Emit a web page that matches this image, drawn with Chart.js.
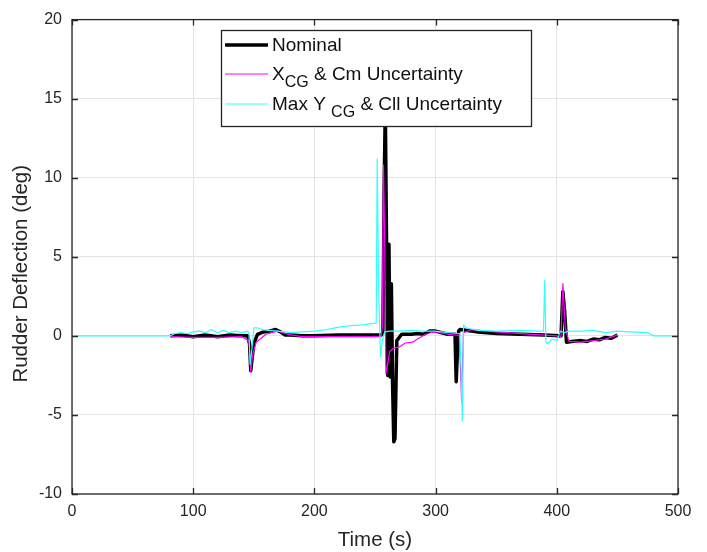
<!DOCTYPE html>
<html>
<head>
<meta charset="utf-8">
<script src="https://cdn.jsdelivr.net/npm/chart.js@4.4.0/dist/chart.umd.min.js"></script>
<style>
  html, body { margin: 0; padding: 0; background: #fff; }
  #wrap { width: 707px; height: 552px; }
</style>
</head>
<body>
<div id="wrap"><canvas id="rudder"></canvas></div>
<script>
// axis ticks
const xTicks = [0, 100, 200, 300, 400, 500];
const yTicks = [-10, -5, 0, 5, 10, 15, 20];

// Nominal
const nominalT = [81, 90, 100, 110, 120, 130, 140, 145, 146.5, 147.5, 148.5, 150, 153, 158, 163, 168, 172, 176, 180, 190, 200, 220, 240, 255, 256.5, 257.5, 258.5, 259.5, 260.5, 261.5, 262.5, 263.5, 264.5, 265.5, 266.5, 268, 272, 280, 285, 290, 295, 300, 305, 310, 316, 317, 318, 319, 320, 325, 335, 350, 370, 390, 402, 403.5, 405, 406.5, 408, 412, 420, 425, 430, 435, 440, 445, 450];
const nominalV = [0, 0.05, -0.05, 0.05, -0.05, 0.05, 0, 0, -0.5, -2.2, -1.5, -0.5, 0.1, 0.25, 0.3, 0.4, 0.25, 0.05, 0.05, 0, 0, 0.05, 0.05, 0.05, 0.2, 9, 14.5, 6, -2.5, 5.8, -2.6, 3.3, -3, -6.7, -6.5, -0.3, 0.1, 0.1, 0.15, 0.1, 0.3, 0.3, 0.2, 0.1, 0.1, -2.9, -1, 0.3, 0.4, 0.35, 0.25, 0.15, 0.1, 0.05, 0, 0, 2.8, 1.5, -0.4, -0.35, -0.3, -0.35, -0.2, -0.25, -0.1, -0.15, 0.05];

// X_CG & Cm uncertainty
const xcgT = [81, 100, 120, 140, 146, 147.5, 149, 152, 160, 170, 178, 190, 220, 250, 255, 256, 257, 258, 259, 260, 262, 265, 270, 275, 281, 285, 292, 296, 300, 310, 318, 319.5, 320.5, 321.5, 323, 330, 350, 380, 400, 402, 403.5, 405, 407, 410, 420, 430, 440, 450];
const xcgV = [-0.05, -0.1, -0.1, -0.05, -0.3, -2.3, -1.2, -0.4, 0.1, 0.3, 0.1, -0.05, -0.05, -0.05, -0.05, 0.5, 10.8, 6, -2.4, -2.0, -1.0, -0.8, -0.7, -0.45, -0.4, -0.2, 0.1, 0.2, 0.25, 0.1, 0.05, 0.05, -2, -4.2, 0.2, 0.4, 0.25, 0.1, 0.0, -0.1, 0.0, 3.3, 0.5, -0.35, -0.4, -0.3, -0.2, 0.05];

// Max Y_CG & Cll uncertainty
const ycgT = [0, 81, 85, 90, 95, 100, 105, 110, 115, 120, 125, 130, 135, 140, 145, 146, 147, 148.5, 150, 153, 157, 162, 170, 180, 190, 200, 210, 220, 230, 240, 250, 251, 251.8, 253, 254.5, 256, 258, 262, 270, 280, 290, 300, 310, 320, 321, 322, 323, 325, 335, 350, 370, 385, 389, 390, 391, 392.5, 396, 400, 403, 406, 410, 420, 430, 440, 450, 460, 475, 480, 500];
const ycgV = [0, 0, 0.15, 0.2, 0.15, 0.25, 0.3, 0.2, 0.4, 0.2, 0.35, 0.2, 0.3, 0.2, 0.3, 0.2, -1.8, -0.8, 0.5, 0.5, 0.4, 0.35, 0.3, 0.2, 0.25, 0.3, 0.4, 0.55, 0.65, 0.7, 0.8, 0.8, 11.2, 3, -1.3, -0.3, 0.25, 0.3, 0.3, 0.35, 0.3, 0.3, 0.2, 0.15, -2, -5.4, 0.7, 0.5, 0.35, 0.3, 0.35, 0.3, 0.3, 3.5, -0.4, -0.5, -0.2, -0.3, 0.3, 0.2, 0.3, 0.3, 0.35, 0.2, 0.3, 0.25, 0.2, 0, 0];

const FONT = '"Liberation Sans", Arial, Helvetica, sans-serif';
const pts = (t, v) => t.map((x, i) => ({ x: x, y: v[i] }));

// box, inward ticks, axis titles and the legend with subscripts
const matlabFrame = {
  id: 'matlabFrame',
  afterDatasetsDraw(chart) {
    const ctx = chart.ctx;
    const a = chart.chartArea;
    const xs = chart.scales.x, ys = chart.scales.y;
    ctx.save();
    ctx.strokeStyle = '#262626';
    ctx.lineWidth = 1.3;
    ctx.strokeRect(a.left, a.top, a.right - a.left, a.bottom - a.top);
    ctx.beginPath();
    xTicks.forEach(v => {
      const px = Math.round(xs.getPixelForValue(v)) + 0.5;
      ctx.moveTo(px, a.bottom); ctx.lineTo(px, a.bottom - 6);
      ctx.moveTo(px, a.top); ctx.lineTo(px, a.top + 6);
    });
    yTicks.forEach(v => {
      const py = Math.round(ys.getPixelForValue(v)) + 0.5;
      ctx.moveTo(a.left, py); ctx.lineTo(a.left + 6, py);
      ctx.moveTo(a.right, py); ctx.lineTo(a.right - 6, py);
    });
    ctx.stroke();

    // axis titles
    ctx.fillStyle = '#262626';
    ctx.font = '20.5px ' + FONT;
    ctx.textAlign = 'center';
    ctx.textBaseline = 'middle';
    ctx.fillText('Time (s)', (a.left + a.right) / 2, 540);
    ctx.translate(21, (a.top + a.bottom) / 2 + 17);
    ctx.rotate(-Math.PI / 2);
    ctx.fillText('Rudder Deflection (deg)', 0, 0);
    ctx.setTransform(1, 0, 0, 1, 0, 0);

    // legend
    const bx = 221, by = 30, bw = 310, bh = 96;
    ctx.fillStyle = '#fff';
    ctx.fillRect(bx, by, bw, bh);
    ctx.strokeStyle = '#262626';
    ctx.lineWidth = 1.3;
    ctx.strokeRect(bx + 0.5, by + 0.5, bw, bh);
    const rows = [
      { color: '#000', width: 3.5, y: 45, parts: [['Nominal', 0]] },
      { color: '#ff00ff', width: 1, y: 74, parts: [['X', 0], ['CG', 1], [' & Cm Uncertainty', 0]] },
      { color: '#33ffff', width: 1, y: 104, parts: [['Max Y ', 0], ['CG', 1], [' & Cll Uncertainty', 0]] }
    ];
    ctx.textAlign = 'left';
    ctx.textBaseline = 'alphabetic';
    rows.forEach(r => {
      ctx.strokeStyle = r.color;
      ctx.lineWidth = r.width;
      ctx.beginPath();
      ctx.moveTo(225, r.y); ctx.lineTo(268, r.y);
      ctx.stroke();
      let x = 272;
      ctx.fillStyle = '#111';
      r.parts.forEach(p => {
        const sub = p[1] === 1;
        ctx.font = (sub ? '16px ' : '19px ') + FONT;
        ctx.fillText(p[0], x, r.y + (sub ? 13 : 6));
        x += ctx.measureText(p[0]).width;
      });
    });
    ctx.restore();
  }
};

new Chart(document.getElementById('rudder'), {
  type: 'line',
  data: {
    datasets: [
      { label: 'Max Y_CG & Cll Uncertainty', data: pts(ycgT, ycgV), borderColor: '#33ffff', borderWidth: 1.2, order: 1 },
      { label: 'X_CG & Cm Uncertainty', data: pts(xcgT, xcgV), borderColor: '#ff00ff', borderWidth: 1.2, order: 2 },
      { label: 'Nominal', data: pts(nominalT, nominalV), borderColor: '#000000', borderWidth: 3.5, order: 3 }
    ]
  },
  options: {
    responsive: true,
    maintainAspectRatio: false,
    animation: false,
    elements: { point: { radius: 0 }, line: { tension: 0, borderJoinStyle: 'round' } },
    layout: { padding: { left: 0, right: 29, top: 17, bottom: 0 } },
    plugins: { legend: { display: false }, tooltip: { enabled: false } },
    scales: {
      x: {
        type: 'linear', min: 0, max: 500,
        afterBuildTicks: s => { s.ticks = xTicks.map(v => ({ value: v })); },
        afterFit: s => { s.height = 58; },
        grid: { color: '#e3e3e3', lineWidth: 1, drawTicks: false },
        border: { display: false },
        ticks: { padding: 8, color: '#262626', font: { family: FONT, size: 16 } }
      },
      y: {
        min: -10, max: 20,
        afterBuildTicks: s => { s.ticks = yTicks.map(v => ({ value: v })); },
        afterFit: s => { s.width = 72; },
        grid: { color: '#e3e3e3', lineWidth: 1, drawTicks: false },
        border: { display: false },
        ticks: { padding: 10, color: '#262626', font: { family: FONT, size: 16 } }
      }
    }
  },
  plugins: [matlabFrame]
});
</script>
</body>
</html>
